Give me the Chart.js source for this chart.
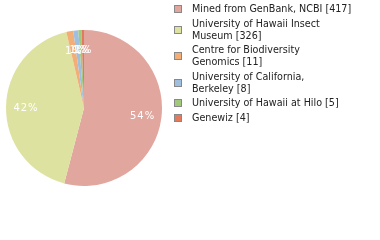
<!DOCTYPE html>
<html>
<head>
<meta charset="utf-8">
<script src="https://cdn.jsdelivr.net/npm/chart.js@4"></script>
<style>
    html, body { margin: 0; padding: 0; background: #fff; }
    #wrap { position: relative; width: 380px; height: 240px; overflow: hidden; }
    #pie { position: absolute; left: 0; top: 0; }
    #legend { position: absolute; left: 174px; top: 3px; width: 205px; font-family: 'DejaVu Sans', sans-serif; font-size: 9.6px; color: #222; }
    .item { display: flex; align-items: center; margin-bottom: 2.5px; }
    .box { width: 6px; height: 6px; border: 1px solid #888; flex: none; margin-right: 10px; }
    .txt { line-height: 12px; white-space: nowrap; }
</style>
</head>
<body>
<div id="wrap">
    <canvas id="pie" width="380" height="240"></canvas>
    <div id="legend"></div>
</div>
<script>
const labels = ['Mined from GenBank, NCBI', 'University of Hawaii Insect Museum', 'Centre for Biodiversity Genomics', 'University of California, Berkeley', 'University of Hawaii at Hilo', 'Genewiz'];
const counts = [417, 326, 11, 8, 5, 4];
const colors = ['#e1a69d', '#dee2a0', '#f2ae76', '#9ebfe0', '#a2c87c', '#e27a5e'];

const total = counts.reduce((a, b) => a + b, 0);

// long entries go on two lines, broken at a space
function wrapLabel(s) {
    if (s.length <= 32) return s;
    let cut = s.lastIndexOf(' ', 28);
    return s.slice(0, cut) + '<br>' + s.slice(cut + 1);
}

// legend on the right
const legend = document.getElementById('legend');
labels.forEach((name, i) => {
    const div = document.createElement('div');
    div.className = 'item';
    div.innerHTML = `<span class="box" style="background:${colors[i]}"></span><span class="txt">${wrapLabel(name + ' [' + counts[i] + ']')}</span>`;
    legend.appendChild(div);
});

// percent text inside the slices
const pctLabels = {
    id: 'pctLabels',
    afterDatasetsDraw(chart) {
        const ctx = chart.ctx;
        const meta = chart.getDatasetMeta(0);
        ctx.save();
        ctx.font = '10px "DejaVu Sans", sans-serif';
        ctx.fillStyle = '#fff';
        ctx.textAlign = 'center';
        ctx.textBaseline = 'middle';
        meta.data.forEach((arc, i) => {
            const p = arc.getProps(['x', 'y', 'startAngle', 'endAngle', 'outerRadius'], true);
            const mid = (p.startAngle + p.endAngle) / 2;
            const r = p.outerRadius * 0.75;
            const txt = Math.round(counts[i] / total * 100) + '%';
            ctx.fillText(txt.split('').join(String.fromCharCode(8202)), p.x + Math.cos(mid) * r, p.y + Math.sin(mid) * r + 1);
        });
        ctx.restore();
    }
};

new Chart(document.getElementById('pie'), {
    type: 'pie',
    data: {
        labels: labels,
        datasets: [{
            data: counts,
            backgroundColor: colors,
            borderWidth: 0
        }]
    },
    options: {
        responsive: false,
        animation: false,
        layout: { padding: { left: 6, top: 30, right: 218, bottom: 54 } },
        plugins: { legend: { display: false }, tooltip: { enabled: false } }
    },
    plugins: [pctLabels]
});
</script>
</body>
</html>
